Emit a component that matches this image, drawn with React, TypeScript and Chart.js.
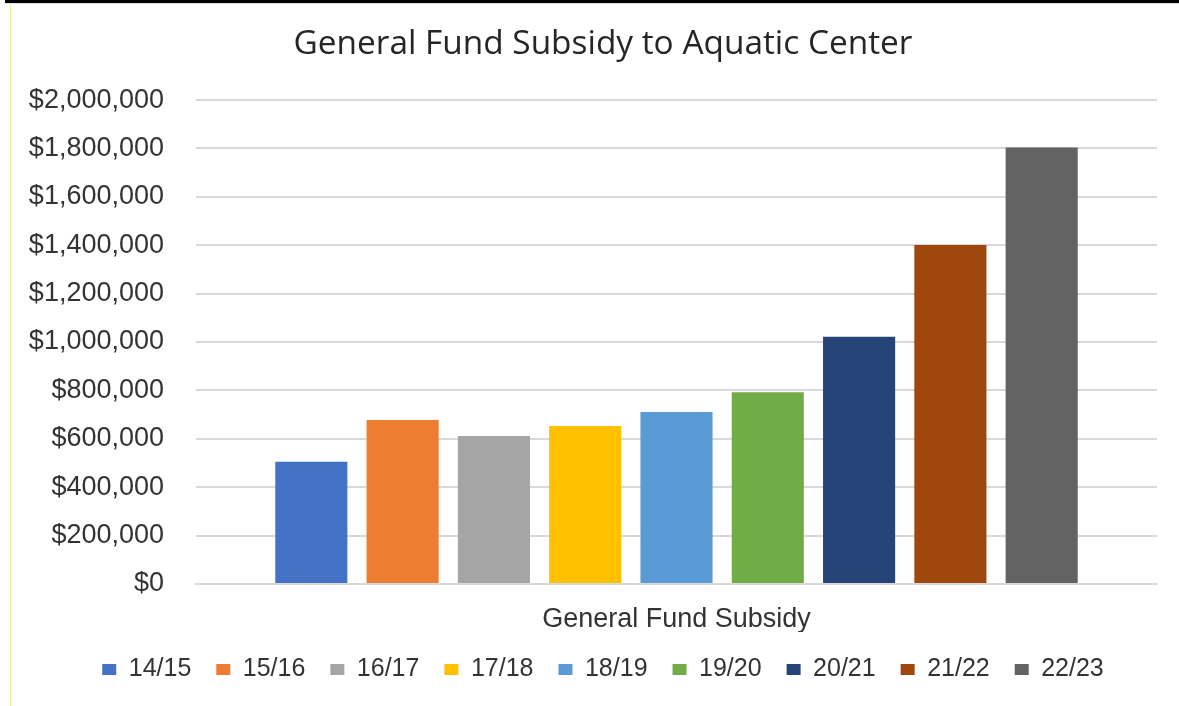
import React, { useEffect, useRef } from "react";
import { Chart, registerables } from "chart.js";

Chart.register(...registerables);

const categories = ["General Fund Subsidy"];
const seasons = ["14/15", "15/16", "16/17", "17/18", "18/19", "19/20", "20/21", "21/22", "22/23"];
const subsidyValues = [505000, 678000, 612000, 653000, 711000, 793000, 1022000, 1401000, 1804000];
const seasonColors = ["#4472C4", "#ED7D31", "#A5A5A5", "#FFC000", "#5B9BD5", "#70AD47", "#264478", "#9E480E", "#636363"];
const yTickMin = 0;
const yTickMax = 2000000;
const yTickStep = 200000;
const chartTitle = "General Fund Subsidy to Aquatic Center";

export default function App() {
  const canvasRef = useRef<HTMLCanvasElement | null>(null);

  useEffect(() => {
    if (!canvasRef.current) return;
    const chart = new Chart(canvasRef.current, {
      type: "bar",
      data: {
        labels: categories,
        datasets: seasons.map((s, i) => ({
          label: s,
          data: [subsidyValues[i]],
          backgroundColor: seasonColors[i],
          borderWidth: 0,
          yAxisID: "y",
        })),
      },
      options: {
        animation: false,
        responsive: true,
        maintainAspectRatio: false,
        layout: { padding: { left: 0, right: 0, top: 0, bottom: 0 } },
        datasets: {
          bar: { categoryPercentage: 0.855, barPercentage: 0.79 },
        },
        plugins: {
          title: {
            display: true,
            text: chartTitle,
            color: "#262626",
            font: { family: "'Open Sans'", size: 33.4, weight: "normal" },
            padding: { top: 21, bottom: 36 },
          },
          legend: {
            display: true,
            position: "bottom",
            labels: {
              color: "#333333",
              font: { family: "'Liberation Sans', Arial", size: 25 },
              boxWidth: 14,
              boxHeight: 11,
              padding: 25,
            },
          },
          tooltip: { enabled: false },
        },
        scales: {
          x: {
            grid: { display: false },
            border: { display: true, color: "#d9d9d9", width: 2 },
            ticks: {
              color: "#333333",
              font: { family: "'Liberation Sans', Arial", size: 27 },
              padding: 11,
            },
            afterFit: (s: any) => {
              s.height = 48;
            },
          },
          y: {
            min: yTickMin,
            max: yTickMax,
            grid: { color: "#d9d9d9", lineWidth: 2, drawTicks: false },
            border: { display: false },
            ticks: {
              stepSize: yTickStep,
              color: "#333333",
              font: { family: "'Liberation Sans', Arial", size: 27 },
              padding: 32,
              callback: (v: any) => "$" + Number(v).toLocaleString("en-US"),
            },
            afterFit: (s: any) => {
              s.width = 185;
            },
          },
          spacer: {
            type: "linear",
            position: "right",
            display: true,
            grid: { display: false, drawTicks: false },
            border: { display: false },
            ticks: { display: false },
            afterFit: (s: any) => {
              s.width = 38;
            },
          },
        },
      },
    });
    return () => chart.destroy();
  }, []);

  return (
    <div
      style={{
        position: "fixed",
        left: 0,
        top: 0,
        width: 1179,
        height: 706,
        overflow: "hidden",
        background: "#ffffff",
      }}
    >
      <div style={{ position: "absolute", left: 5, top: 0, width: 1174, height: 3, background: "#000000" }} />
      <div style={{ position: "absolute", left: 5, top: 3, width: 1174, height: 1, background: "#e0e0e0" }} />
      <div style={{ position: "absolute", left: 10, top: 3, width: 1, height: 703, background: "#f0ee9a" }} />
      <div style={{ position: "absolute", left: 11, top: 3, width: 1184, height: 689 }}>
        <canvas ref={canvasRef} />
      </div>
    </div>
  );
}
